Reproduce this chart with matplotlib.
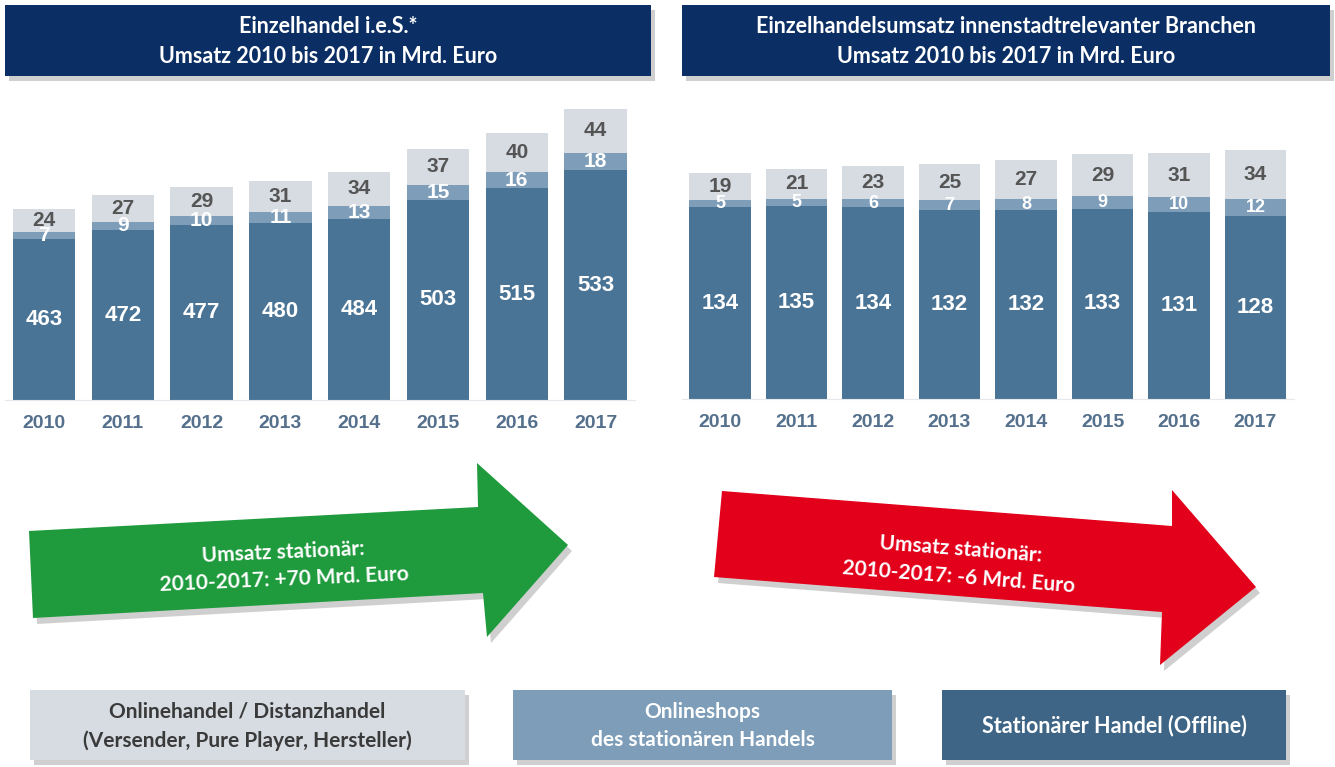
import numpy as np
import matplotlib
matplotlib.use("Agg")
from matplotlib import pyplot as plt
from matplotlib.patches import Polygon, Rectangle

years = ["2010", "2011", "2012", "2013", "2014", "2015", "2016", "2017"]

# Einzelhandel i.e.S.
left_offline = [463, 472, 477, 480, 484, 503, 515, 533]
left_shops = [7, 9, 10, 11, 13, 15, 16, 18]
left_online = [24, 27, 29, 31, 34, 37, 40, 44]

# innenstadtrelevante Branchen
right_offline = [134, 135, 134, 132, 132, 133, 131, 128]
right_shops = [5, 5, 6, 7, 8, 9, 10, 12]
right_online = [19, 21, 23, 25, 27, 29, 31, 34]

c_dark = '#4a7496'
c_mid = '#7d9db8'
c_light = '#d6dce2'
c_navy = '#0b2f64'
c_year = '#55708c'

W, H = 1335, 767
fig = plt.figure(figsize=(W / 100, H / 100), dpi=100)
fig.patch.set_facecolor('white')

# overlay axes in pixel coordinates for boxes and arrows
bg = fig.add_axes([0, 0, 1, 1])
bg.set_xlim(0, W)
bg.set_ylim(H, 0)
bg.axis('off')

TF = ['Lato', 'DejaVu Sans']
AF = ['Liberation Sans', 'DejaVu Sans']


def box(x0, y0, x1, y1, fc, text, tc, size, ls=1.5):
    bg.add_patch(Rectangle((x0 + 4, y0 + 5), x1 - x0, y1 - y0, fc='#b0b0b0', ec='none', alpha=0.6))
    bg.add_patch(Rectangle((x0, y0), x1 - x0, y1 - y0, fc=fc, ec='none'))
    bg.text((x0 + x1) / 2, (y0 + y1) / 2 + 1, text, ha='center', va='center', color=tc,
            fontsize=size, fontweight='bold', family=TF, linespacing=ls)


box(5, 5, 651, 76, c_navy, "Einzelhandel i.e.S.*\nUmsatz 2010 bis 2017 in Mrd. Euro", 'white', 15.5, 1.55)
box(682, 5, 1330, 76, c_navy, "Einzelhandelsumsatz innenstadtrelevanter Branchen\nUmsatz 2010 bis 2017 in Mrd. Euro", 'white', 15.5, 1.55)

box(30, 690, 465, 760, c_light, "Onlinehandel / Distanzhandel\n(Versender, Pure Player, Hersteller)", '#3a3a3a', 15, 1.55)
box(513, 690, 892, 760, c_mid, "Onlineshops\ndes stationären Handels", 'white', 15, 1.55)
box(942, 690, 1286, 760, '#3e6585', "Stationärer Handel (Offline)", 'white', 15.5)

# arrows
green = [(29, 531), (478, 507), (477, 463), (568, 545), (487, 637), (483, 593), (33, 618)]
red = [(722, 491), (1172, 526), (1172, 490), (1256, 587), (1160, 665), (1162, 612), (714, 577)]
for pts, col in [(green, '#1f9b3d'), (red, '#e2001a')]:
    sh = [(x + 4, y + 6) for x, y in pts]
    bg.add_patch(Polygon(sh, closed=True, fc='#a0a0a0', ec='none', alpha=0.5))
    bg.add_patch(Polygon(pts, closed=True, fc=col, ec='none'))

bg.text(284, 566, "Umsatz stationär:\n2010-2017: +70 Mrd. Euro", ha='center', va='center',
        color='white', fontsize=15, fontweight='bold', family=TF, rotation=2.5,
        linespacing=1.5, rotation_mode='anchor')
bg.text(960, 563, "Umsatz stationär:\n2010-2017: -6 Mrd. Euro", ha='center', va='center',
        color='white', fontsize=15, fontweight='bold', family=TF, rotation=-4.5,
        linespacing=1.5, rotation_mode='anchor')


def panel(rect, offline, shops, online, base, top, width, mid_size):
    ax = fig.add_axes(rect)
    x = np.arange(len(years))
    off = np.array(offline)
    sh = np.array(shops)
    on = np.array(online)
    ax.bar(x, off - base, bottom=base, width=width, color=c_dark)
    ax.bar(x, sh, bottom=off, width=width, color=c_mid)
    ax.bar(x, on, bottom=off + sh, width=width, color=c_light)
    lab = dict(ha='center', va='center', fontweight='bold', family=AF)
    for i in x:
        ax.text(i, (base + off[i]) / 2, str(off[i]), color='white', fontsize=16, **lab)
        ax.text(i, off[i] + sh[i] / 2, str(sh[i]), color='white', fontsize=mid_size, **lab)
        ax.text(i, off[i] + sh[i] + on[i] / 2, str(on[i]), color='#555555', fontsize=15, **lab)
    ax.set_xlim(-0.5, len(years) - 0.5)
    ax.set_ylim(base, top)
    ax.set_xticks(x)
    ax.set_xticklabels(years, fontsize=14, fontweight='bold', color=c_year, family=AF)
    ax.tick_params(axis='x', length=0, pad=11)
    ax.set_yticks([])
    for s in ['top', 'right', 'left']:
        ax.spines[s].set_visible(False)
    ax.spines['bottom'].set_color('#e4e8ec')
    ax.patch.set_alpha(0)
    return ax


panel([4.6 / W, 1 - 400 / H, 630.4 / W, 300 / H], left_offline, left_shops, left_online,
      300, 300 + 300 / 0.986, 0.79, 15)
panel([681.75 / W, 1 - 399 / H, 612 / W, 299 / H], right_offline, right_shops, right_online,
      0, 299 / 1.43, 0.81, 13)

fig.savefig('out.png', dpi=100)
